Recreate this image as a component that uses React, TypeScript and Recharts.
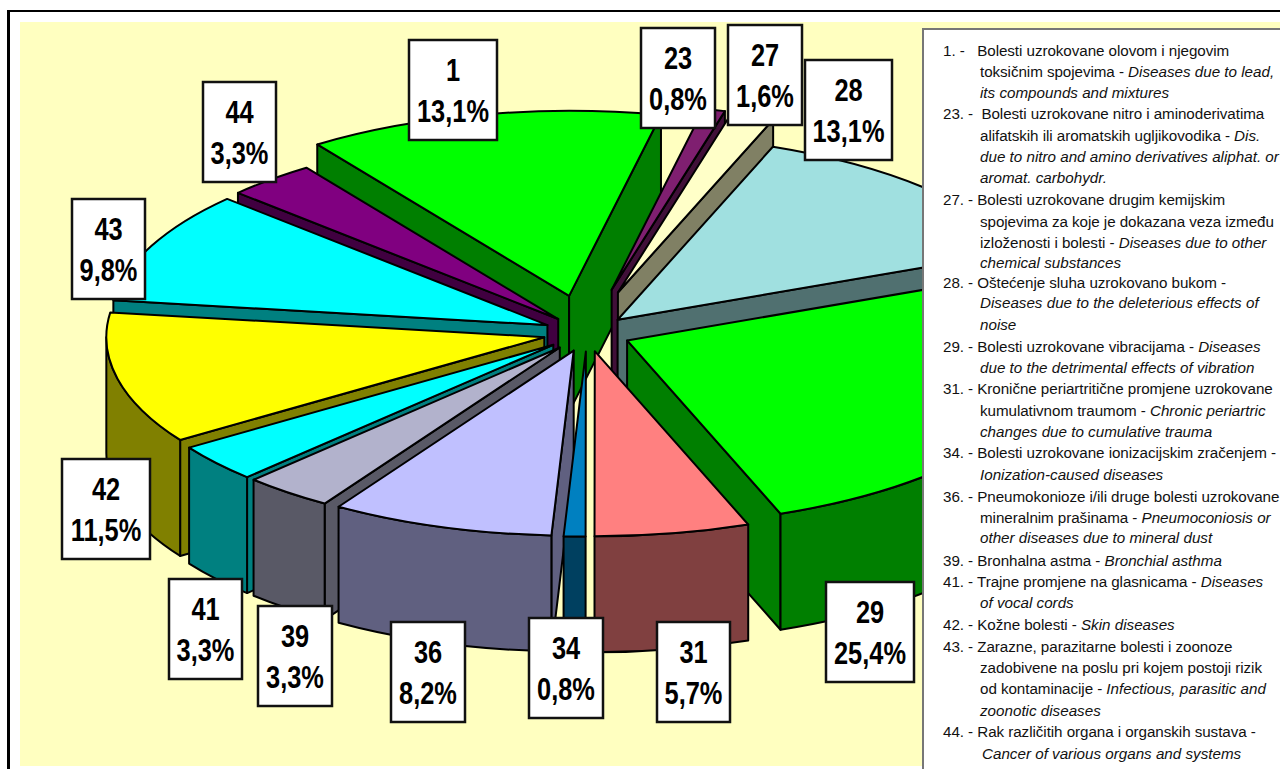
import React from 'react'
import { PieChart, Pie } from 'recharts'

const CODES = ['1', '23', '27', '28', '29', '31', '34', '36', '39', '41', '42', '43', '44']
const SHARES = [13.1, 0.8, 1.6, 13.1, 25.4, 5.7, 0.8, 8.2, 3.3, 3.3, 11.5, 9.8, 3.3]
const COLORS = [
  '#00ff00', '#7f1f70', '#ffffc8', '#a0e0e0', '#00ff00', '#ff8080', '#0080c0',
  '#c0c0ff', '#b2b2cc', '#00ffff', '#ffff00', '#00ffff', '#800080',
]
const WALLS = [
  '#007f00', '#400f38', '#808064', '#507070', '#007f00', '#804040', '#004060',
  '#606080', '#595966', '#008080', '#808000', '#008080', '#400040',
]
// how far each slice is pulled out of the pie
const PULL = [2.05, 2.4, 2.3, 1, 1, 1, 1, 1, 1, 1, 1, 1, 1]
// back to front, so nearer side walls cover the ones behind them
const WALL_ORDER = ['1', '23', '27', '44', '28', '43', '29', '42', '41', '39', '31', '36', '34']

// label boxes: left, top, width
const LABEL_BOXES = [
  [409, 40, 88], [641, 28, 74], [728, 25, 74], [805, 60, 87], [826, 582, 88], [657, 622, 73], [529, 618, 74],
  [391, 622, 74], [258, 606, 74], [169, 579, 73], [62, 459, 88], [72, 199, 73], [203, 82, 73],
]

type Row = [number, string, string]
const LEGEND_ROWS: Row[] = [
  [943, '1. -   Bolesti uzrokovane olovom i njegovim', ''],
  [980, 'toksičnim spojevima - ', 'Diseases due to lead,'],
  [980, '', 'its compounds and mixtures'],
  [943, '23. -  Bolesti uzrokovane nitro i aminoderivatima', ''],
  [980, 'alifatskih ili aromatskih ugljikovodika - ', 'Dis.'],
  [980, '', 'due to nitro and amino derivatives aliphat. or'],
  [980, '', 'aromat. carbohydr.'],
  [943, '27. - Bolesti uzrokovane drugim kemijskim', ''],
  [980, 'spojevima za koje je dokazana veza između', ''],
  [980, 'izloženosti i bolesti - ', 'Diseases due to other'],
  [980, '', 'chemical substances'],
  [943, '28. - Oštećenje sluha uzrokovano bukom -', ''],
  [980, '', 'Diseases due to the deleterious effects of'],
  [980, '', 'noise'],
  [943, '29. - Bolesti uzrokovane vibracijama - ', 'Diseases'],
  [980, '', 'due to the detrimental effects of vibration'],
  [943, '31. - Kronične periartritične promjene uzrokovane', ''],
  [980, 'kumulativnom traumom - ', 'Chronic periartric'],
  [980, '', 'changes due to cumulative trauma'],
  [943, '34. - Bolesti uzrokovane ionizacijskim zračenjem -', ''],
  [980, '', 'Ionization-caused diseases'],
  [943, '36. - Pneumokonioze i/ili druge bolesti uzrokovane', ''],
  [980, 'mineralnim prašinama - ', 'Pneumoconiosis or'],
  [980, '', 'other diseases due to mineral dust'],
  [943, '39. - Bronhalna astma - ', 'Bronchial asthma'],
  [943, '41. - Trajne promjene na glasnicama - ', 'Diseases'],
  [980, '', 'of vocal cords'],
  [943, '42. - Kožne bolesti - ', 'Skin diseases'],
  [943, '43. - Zarazne, parazitarne bolesti i zoonoze', ''],
  [980, 'zadobivene na poslu pri kojem postoji rizik', ''],
  [980, 'od kontaminacije - ', 'Infectious, parasitic and'],
  [980, '', 'zoonotic diseases'],
  [943, '44. - Rak različitih organa i organskih sustava -', ''],
  [982, '', 'Cancer of various organs and systems'],
]
const LEGEND_Y = [
  51, 72, 93, 114, 136, 157, 178, 200, 222, 243, 263, 283, 303, 325, 347, 368, 389,
  411, 432, 453, 475, 497, 518, 538, 561, 582, 603, 625, 647, 668, 689, 711, 732, 754,
]

const DATA = CODES.map((code, i) => ({ code, share: SHARES[i], idx: i }))

const TILT = 185 / 438
const DEPTH = 116
const RAD = Math.PI / 180
const START = 125.1

// the flat pie sector is turned into an exploded slice lying on a tilted plane
function frame(p: any) {
  const { cx, cy, outerRadius: r, startAngle, endAngle, payload } = p
  const idx = payload.idx ?? p.idx
  const mid = (startAngle + endAngle) / 2
  const off = 0.1 * PULL[idx] * r
  const ox = cx + off * Math.cos(mid * RAD)
  const oy = cy - off * Math.sin(mid * RAD) * TILT
  const at = (a: number, dz = 0): [number, number] => [
    ox + r * Math.cos(a * RAD),
    oy - r * Math.sin(a * RAD) * TILT + dz,
  ]
  return { r, idx, startAngle, endAngle, ox, oy, at, ry: r * TILT }
}

function TopFace(p: any) {
  const { r, ry, idx, startAngle, endAngle, ox, oy, at } = frame(p)
  const s = at(startAngle)
  const e = at(endAngle)
  const large = startAngle - endAngle > 180 ? 1 : 0
  const d = `M${ox},${oy}L${s[0]},${s[1]}A${r},${ry} 0 ${large} 1 ${e[0]},${e[1]}Z`
  return <path d={d} fill={COLORS[idx]} stroke="#000" strokeWidth={2} strokeLinejoin="round" />
}

function SideWalls(p: any) {
  const { r, ry, idx, startAngle, endAngle, ox, oy, at } = frame(p)
  if (CODES[idx] !== p.onlyCode) return null
  const fill = WALLS[idx]
  const radial = (a: number) => {
    const q = at(a)
    return `M${ox},${oy}L${q[0]},${q[1]}L${q[0]},${q[1] + DEPTH}L${ox},${oy + DEPTH}Z`
  }
  // angles measured clockwise from the top of the pie
  const fromTop0 = 90 - startAngle
  const fromTop1 = 90 - endAngle
  const faces: string[] = []
  if (Math.sin(fromTop0 * RAD) < -0.001) faces.push(radial(startAngle))
  if (Math.sin(fromTop1 * RAD) > 0.001) faces.push(radial(endAngle))
  const lo = Math.max(fromTop0, 90)
  const hi = Math.min(fromTop1, 270)
  if (hi > lo) {
    const a = at(90 - lo)
    const b = at(90 - hi)
    faces.push(
      `M${a[0]},${a[1]}A${r},${ry} 0 0 1 ${b[0]},${b[1]}L${b[0]},${b[1] + DEPTH}A${r},${ry} 0 0 0 ${a[0]},${a[1] + DEPTH}Z`,
    )
  }
  return (
    <g>
      {faces.map((d, i) => (
        <path key={i} d={d} fill={fill} stroke="#000" strokeWidth={2} strokeLinejoin="round" />
      ))}
    </g>
  )
}

function BoxLabel(p: any) {
  const idx = p.payload?.idx ?? p.index
  const [x, y, w] = LABEL_BOXES[idx]
  const font = { fontFamily: '"Liberation Sans", Arial, sans-serif', fontWeight: 700, fontSize: 31, fill: '#000' }
  const mx = x + w / 2
  return (
    <g>
      <rect x={x} y={y} width={w} height={100} fill="#fff" stroke="#111" strokeWidth={2.5} />
      <text transform={`translate(${mx},${y + 41}) scale(0.82,1)`} textAnchor="middle" {...font}>{CODES[idx]}</text>
      <text transform={`translate(${mx},${y + 82}) scale(0.82,1)`} textAnchor="middle" {...font}>
        {SHARES[idx].toFixed(1).replace('.', ',') + '%'}
      </text>
    </g>
  )
}

export default function App() {
  const pieProps = {
    data: DATA,
    dataKey: 'share',
    nameKey: 'code',
    cx: 587,
    cy: 333,
    outerRadius: 438,
    startAngle: START,
    endAngle: START - 360,
    isAnimationActive: false,
    legendType: 'none' as const,
  }
  return (
    <div style={{ position: 'absolute', left: 0, top: 0, width: 1280, height: 769, overflow: 'hidden', background: '#fff' }}>
      <div style={{ position: 'absolute', left: 7, top: 10, width: 1300, height: 800, borderLeft: '3px solid #000', borderTop: '2px solid #000' }} />
      <div style={{ position: 'absolute', left: 20, top: 22, width: 1260, height: 744, background: '#ffffc0' }} />
      <div style={{ position: 'absolute', left: 0, top: 0 }}>
        <PieChart width={1280} height={769} margin={{ top: 0, right: 0, bottom: 0, left: 0 }}>
          {WALL_ORDER.map((code) => (
            <Pie key={code} {...pieProps} shape={(p: any) => <SideWalls {...p} onlyCode={code} />} />
          ))}
          <Pie {...pieProps} shape={TopFace} label={BoxLabel} labelLine={false} />
        </PieChart>
      </div>
      <div style={{ position: 'absolute', left: 922, top: 28, width: 400, height: 760, background: '#fff', borderLeft: '2px solid #777', borderTop: '2px solid #777' }} />
      {LEGEND_ROWS.map(([x, plain, italic], i) => (
        <div
          key={i}
          style={{
            position: 'absolute', left: x, top: LEGEND_Y[i] - 10, height: 20, lineHeight: '20px', whiteSpace: 'pre',
            fontFamily: '"Liberation Sans", Arial, sans-serif', fontSize: 15.2, color: '#111',
          }}
        >
          <span style={{ letterSpacing: -0.06 }}>{plain}</span>
          <i>{italic}</i>
        </div>
      ))}
    </div>
  )
}
